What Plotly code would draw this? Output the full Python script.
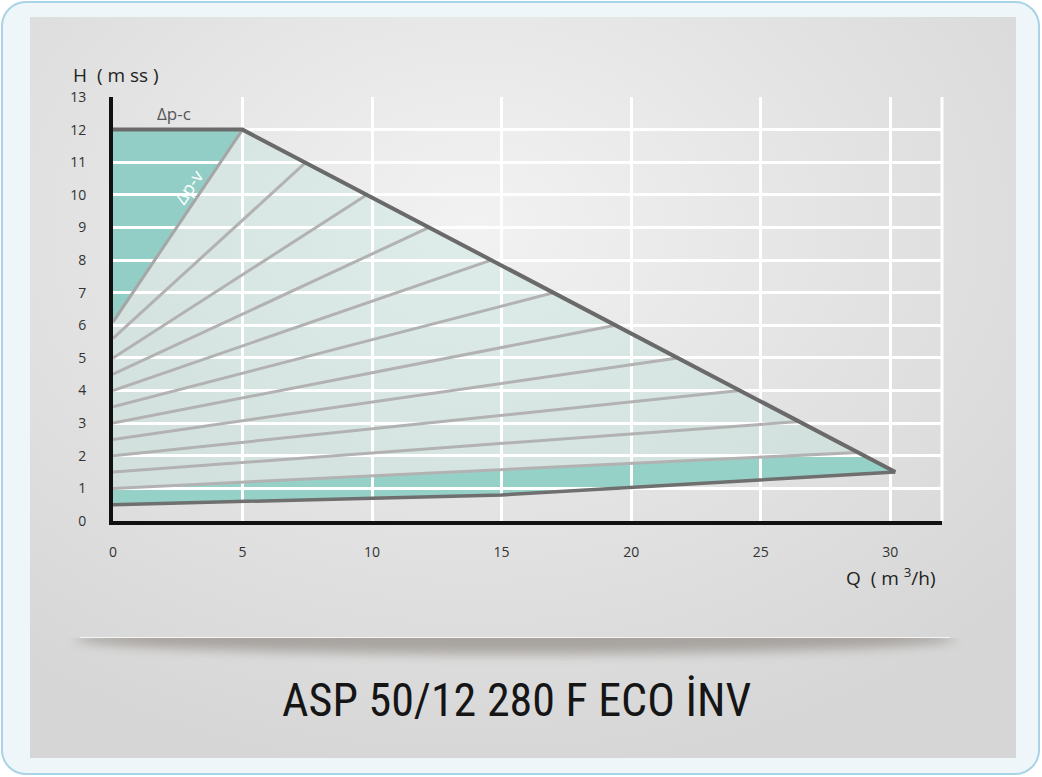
import base64
import plotly.graph_objects as go

# ---------------- data ----------------
q_max = [0, 5, 30.2]          # max curve (Δp-c top + max speed)
h_max = [12, 12, 1.5]
q_min = [0, 15, 30.2]         # min curve
h_min = [0.5, 0.8, 1.5]
dpv_q = [0, 5]                # Δp-v line
dpv_h = [6.1, 12]
speed_h0 = [5.6, 5.0, 4.5, 4.0, 3.5, 3.0, 2.5, 2.0, 1.5, 1.0]       # intermediate lines at Q=0
speed_qend = [7.45, 9.8, 12.2, 14.6, 17.0, 19.4, 21.8, 24.2, 26.5, 28.75]
speed_hend = [11.0, 10.0, 9.0, 8.0, 7.0, 6.0, 5.0, 4.0, 3.05, 2.1]
x_ticks = [0, 5, 10, 15, 20, 25, 30]
y_ticks = list(range(0, 14))
x_range = [0, 32]
y_range = [0, 13]
title_text = "ASP 50/12 280 F ECO İNV"

W, H = 1042, 777
ML, MR, MT, MB = 113, 100, 97, 256
PW, PH = W - ML - MR, H - MT - MB

# ---------------- background (svg) ----------------
svg = f'''<svg xmlns="http://www.w3.org/2000/svg" width="{W}" height="{H}" viewBox="0 0 {W} {H}">
<defs>
<radialGradient id="g" cx="0.45" cy="0.28" r="0.75">
<stop offset="0" stop-color="#f2f2f2"/>
<stop offset="0.55" stop-color="#e2e2e2"/>
<stop offset="1" stop-color="#d6d6d6"/>
</radialGradient>
<filter id="b" x="-10%" y="-300%" width="120%" height="700%"><feGaussianBlur stdDeviation="6"/></filter>
<clipPath id="c"><rect x="0" y="638" width="{W}" height="60"/></clipPath>
</defs>
<rect x="0" y="0" width="{W}" height="{H}" fill="#ffffff"/>
<rect x="2" y="2" width="{W-5}" height="{H-5}" rx="24" fill="#eef6fa" stroke="#a9d3e6" stroke-width="2"/>
<rect x="30" y="17" width="986" height="741" fill="url(#g)"/>
<g clip-path="url(#c)"><ellipse cx="515" cy="638" rx="440" ry="16" fill="#857f78" opacity="0.6" filter="url(#b)"/></g>
<line x1="80" y1="637.5" x2="950" y2="637.5" stroke="#f4f4f4" stroke-width="1.2"/>
</svg>'''
svg_uri = "data:image/svg+xml;base64," + base64.b64encode(svg.encode("utf-8")).decode()


def path(pts):
    return "M " + " L ".join(f"{x},{y}" for x, y in pts) + " Z"


# fills (below grid)
teal_top = [(dpv_q[0], dpv_h[0]), (q_max[0], h_max[0]), (q_max[1], h_max[1])]
teal_bottom = list(zip(q_min, h_min)) + [(speed_qend[-1], speed_hend[-1]), (0, speed_h0[-1])]
pale = [(0, speed_h0[-1]), (speed_qend[-1], speed_hend[-1]), (q_max[1], h_max[1]), (dpv_q[0], dpv_h[0])]

shapes = [
    dict(type="path", xref="x", yref="y", path=path(pale), fillcolor="rgba(185,228,218,0.32)",
         line=dict(width=0), layer="below"),
    dict(type="path", xref="x", yref="y", path=path(teal_top), fillcolor="#93cec6",
         line=dict(width=0), layer="below"),
    dict(type="path", xref="x", yref="y", path=path(teal_bottom), fillcolor="#96d1c8",
         line=dict(width=0), layer="below"),
    dict(type="line", xref="paper", yref="paper", x0=1, x1=1, y0=0, y1=1,
         line=dict(color="white", width=3), layer="between"),
]

fig = go.Figure()

# intermediate speed lines
sx, sy = [], []
for h0, qe, he in zip(speed_h0, speed_qend, speed_hend):
    sx += [0, qe, None]
    sy += [h0, he, None]
fig.add_trace(go.Scatter(x=sx, y=sy, mode="lines", line=dict(color="#b2b2b2", width=3),
                         hoverinfo="skip", showlegend=False))
fig.add_trace(go.Scatter(x=dpv_q, y=dpv_h, mode="lines", line=dict(color="#a6a6a6", width=3),
                         hoverinfo="skip", showlegend=False))
fig.add_trace(go.Scatter(x=q_min, y=h_min, mode="lines", line=dict(color="#6f6f6f", width=3.5),
                         hoverinfo="skip", showlegend=False))
fig.add_trace(go.Scatter(x=q_max, y=h_max, mode="lines", line=dict(color="#6a6a6a", width=4),
                         hoverinfo="skip", showlegend=False))

tickfont = dict(family="Open Sans, Noto Sans, sans-serif", size=14, color="#333333")
axis_common = dict(showgrid=True, gridcolor="white", gridwidth=3, zeroline=False,
                   showline=True, linecolor="#111111", linewidth=4, ticks="",
                   tickfont=tickfont, fixedrange=True)

fig.update_layout(
    width=W, height=H,
    margin=dict(l=ML, r=MR, t=MT, b=MB, pad=0),
    paper_bgcolor="rgba(0,0,0,0)", plot_bgcolor="rgba(0,0,0,0)",
    xaxis=dict(range=x_range, tickvals=x_ticks, ticktext=[str(v) for v in x_ticks],
               ticklabelstandoff=15, **axis_common),
    yaxis=dict(range=y_range, tickvals=y_ticks, ticktext=[str(v) for v in y_ticks],
               ticklabelstandoff=20, **axis_common),
    shapes=shapes,
    images=[dict(source=svg_uri, xref="paper", yref="paper",
                 x=-ML / PW, y=1 + MT / PH, sizex=W / PW, sizey=H / PH,
                 xanchor="left", yanchor="top", sizing="stretch", layer="below")],
    showlegend=False,
)

lab = dict(family="Open Sans, Noto Sans, sans-serif", color="#222222")
fig.add_annotation(text="H  ( m ss )", xref="paper", yref="paper",
                   x=(71 - ML) / PW, y=(H - MB - 75) / PH, xanchor="left", yanchor="middle",
                   showarrow=False, font=dict(size=19, **lab))
fig.add_annotation(text="Q  ( m <sup>3</sup>/h)", xref="paper", yref="paper",
                   x=(938 - ML) / PW, y=(H - MB - 577) / PH, xanchor="right", yanchor="middle",
                   showarrow=False, font=dict(size=19, **lab))
fig.add_annotation(text="Δp-c", xref="x", yref="y", x=2.35, y=12.5, showarrow=False,
                   font=dict(family="Open Sans, Noto Sans, sans-serif", size=17, color="#555555"))
fig.add_annotation(text="Δp-v", xref="x", yref="y", x=2.9, y=10.25, showarrow=False, textangle=-56,
                   font=dict(family="Open Sans, Noto Sans, sans-serif", size=18, color="#ffffff"))
fig.add_annotation(text=title_text, xref="paper", yref="paper",
                   x=(516 - ML) / PW, y=(H - MB - 700) / PH, xanchor="center", yanchor="middle",
                   showarrow=False,
                   font=dict(family="Liberation Sans Narrow, Roboto Condensed, Roboto, sans-serif",
                             size=46, color="#151515"))

fig.write_html("out.html", config={"displayModeBar": False},
               post_script="document.body.style.margin='0';document.body.style.padding='0';")
